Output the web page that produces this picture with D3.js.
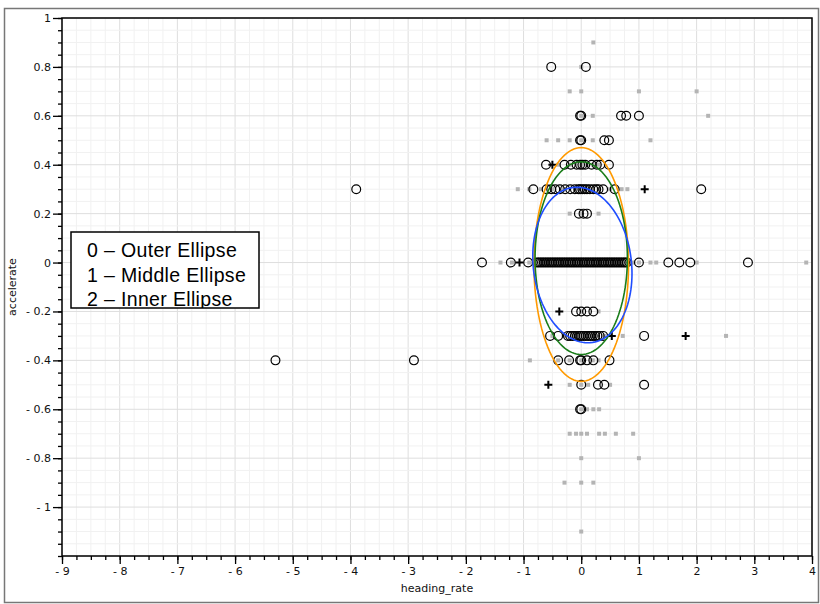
<!DOCTYPE html>
<html><head><meta charset="utf-8">
<script src="https://cdn.jsdelivr.net/npm/d3@7"></script>
<style>
html,body{margin:0;padding:0;background:#fff;}
svg{display:block;}
</style></head>
<body>
<script>
// ---------- DATA ----------
const xTickValues = [-9,-8,-7,-6,-5,-4,-3,-2,-1,0,1,2,3,4];
const yTickValues = [-1,-0.8,-0.6,-0.4,-0.2,0,0.2,0.4,0.6,0.8,1];
const xTitle = "heading_rate";
const yTitle = "accelerate";

// background (gray square) points [heading_rate, accelerate]
const grayPoints = [
  [0.21,0.9],
  [0.0,0.8],
  [-0.2,0.7],[0.0,0.7],[1.0,0.7],[2.0,0.7],
  [0.0,0.6],[0.2,0.6],[2.2,0.6],
  [-0.6,0.5],[-0.4,0.5],[-0.2,0.5],[0.0,0.5],[0.2,0.5],[1.2,0.5],
  [-0.4,0.4],[-0.2,0.4],[0.0,0.4],[0.1,0.4],[0.2,0.4],[0.3,0.4],
  [-1.1,0.3],[-0.9,0.3],[-0.7,0.3],[-0.5,0.3],[-0.3,0.3],[-0.1,0.3],[0.0,0.3],[0.1,0.3],[0.3,0.3],[0.5,0.3],[0.7,0.3],[0.8,0.3],
  [-0.2,0.2],[0.0,0.2],[0.3,0.2],
  [-1.4,0],[-1.2,0],[-0.9,0],[-0.6,0],[-0.3,0],[0.0,0],[0.3,0],[0.6,0],[0.9,0],[1.0,0],[1.2,0],[1.3,0],[2.0,0],[3.9,0],
  [0.0,-0.2],[0.3,-0.2],
  [-0.5,-0.3],[-0.3,-0.3],[0.0,-0.3],[0.2,-0.3],[0.4,-0.3],[0.72,-0.3],[2.51,-0.3],
  [-0.89,-0.4],[-0.4,-0.4],[-0.2,-0.4],[0.0,-0.4],[0.2,-0.4],[0.3,-0.4],
  [-0.2,-0.5],[0.0,-0.5],[0.12,-0.5],[0.5,-0.5],
  [0.0,-0.6],[0.1,-0.6],[0.21,-0.6],[0.31,-0.6],
  [-0.2,-0.7],[-0.09,-0.7],[0.0,-0.7],[0.1,-0.7],[0.31,-0.7],[0.41,-0.7],[0.6,-0.7],[0.9,-0.7],
  [0.0,-0.8],[1.0,-0.8],
  [-0.29,-0.9],[0.0,-0.9],[0.21,-0.9],
  [0.0,-1.1]
];

// open circle points
const circlePoints = [
  [-0.52,0.8],[0.08,0.8],
  [-0.02,0.6],[0.0,0.6],[0.69,0.6],[0.78,0.6],[1.0,0.6],
  [-0.02,0.5],[0.0,0.5],[0.4,0.5],[0.48,0.5],
  [-0.61,0.4],[-0.29,0.4],[-0.18,0.4],[-0.08,0.4],[-0.02,0.4],[0.02,0.4],[0.07,0.4],[0.18,0.4],[0.27,0.4],[0.33,0.4],[0.48,0.4],
  [-3.9,0.3],[-0.83,0.3],[-0.6,0.3],[-0.52,0.3],[-0.45,0.3],[-0.37,0.3],[-0.28,0.3],[-0.19,0.3],[-0.11,0.3],[-0.05,0.3],[-0.02,0.3],[0.02,0.3],[0.06,0.3],[0.1,0.3],[0.15,0.3],[0.21,0.3],[0.26,0.3],[0.3,0.3],[0.38,0.3],[0.58,0.3],[2.08,0.3],
  [-0.04,0.2],[0.04,0.2],[0.1,0.2],
  [-1.72,0],[-1.22,0],[-0.92,0],
  [-0.77,0],[-0.74,0],[-0.71,0],[-0.68,0],[-0.65,0],[-0.62,0],[-0.59,0],[-0.56,0],[-0.53,0],[-0.5,0],
  [-0.47,0],[-0.44,0],[-0.41,0],[-0.38,0],[-0.35,0],[-0.32,0],[-0.29,0],[-0.26,0],[-0.23,0],[-0.2,0],
  [-0.17,0],[-0.14,0],[-0.11,0],[-0.08,0],[-0.05,0],[-0.02,0],[0.01,0],[0.04,0],[0.07,0],[0.1,0],
  [0.13,0],[0.16,0],[0.19,0],[0.22,0],[0.25,0],[0.28,0],[0.31,0],[0.34,0],[0.37,0],[0.4,0],
  [0.43,0],[0.46,0],[0.49,0],[0.52,0],[0.55,0],[0.58,0],[0.61,0],[0.64,0],[0.67,0],[0.7,0],
  [0.73,0],[0.76,0],[0.79,0],
  [1.0,0],[1.51,0],[1.7,0],[1.89,0],[2.89,0],
  [-0.09,-0.2],[0.0,-0.2],[0.1,-0.2],[0.21,-0.2],
  [-0.54,-0.3],[-0.4,-0.3],[-0.23,-0.3],[-0.19,-0.3],[-0.15,-0.3],[-0.11,-0.3],[-0.07,-0.3],[-0.03,-0.3],[0.0,-0.3],[0.04,-0.3],[0.08,-0.3],[0.12,-0.3],[0.16,-0.3],[0.2,-0.3],[0.24,-0.3],[0.28,-0.3],[0.32,-0.3],[0.38,-0.3],[1.09,-0.3],
  [-5.3,-0.4],[-2.9,-0.4],[-0.4,-0.4],[-0.21,-0.4],[-0.02,-0.4],[0.0,-0.4],[0.1,-0.4],[0.21,-0.4],[0.49,-0.4],
  [0.0,-0.5],[0.29,-0.5],[0.4,-0.5],[1.09,-0.5],
  [-0.02,-0.6],[0.0,-0.6]
];

// plus-sign points
const plusPoints = [
  [-0.5,0.4],[1.1,0.3],[-1.07,0],[-0.38,-0.2],[0.53,-0.3],[1.81,-0.3],[-0.57,-0.5]
];

// ellipses: centre x, centre y, semi-axis x, semi-axis y, shear (data units)
const ellipseNames = ["0 \u2013 Outer Ellipse","1 \u2013 Middle Ellipse","2 \u2013 Inner Ellipse"];
const ellipseCx    = [0.0, 0.0, 0.02];
const ellipseCy    = [-0.008, 0.018, -0.01];
const ellipseAx    = [0.82, 0.80, 0.86];
const ellipseAy    = [0.478, 0.394, 0.316];
const ellipseShear = [0.0, 0.0, -0.035];
const ellipseColors = ["#ff9a00","#1a7d1a","#1f4dff"];

// ---------- CHART ----------
const W = 820, H = 604;
const svg = d3.select("body").append("svg").attr("width",W).attr("height",H);
const L = 62, R = 812, T = 18, B = 556;
const x = d3.scaleLinear().domain([-9,4]).range([L,R]);
const y = d3.scaleLinear().domain([-1.2,1]).range([B,T]);

// outer frame
svg.append("rect").attr("x",4.5).attr("y",8.5).attr("width",814).attr("height",594)
  .attr("fill","#fff").attr("stroke","#777").attr("stroke-width",1.5);

// grid
const xMinor = d3.range(-36,17).map(i=>i*0.25);
const yMinor = d3.range(-24,21).map(i=>+(i*0.05).toFixed(2));
const g = svg.append("g");
g.selectAll(".gxm").data(xMinor).join("line")
  .attr("x1",d=>x(d)).attr("x2",d=>x(d)).attr("y1",T).attr("y2",B)
  .attr("stroke",d=>Number.isInteger(d)?"#dedede":"#f1f1f1").attr("stroke-width",1);
g.selectAll(".gym").data(yMinor).join("line")
  .attr("y1",d=>y(d)).attr("y2",d=>y(d)).attr("x1",L).attr("x2",R)
  .attr("stroke",d=>Math.abs(Math.round(d*5)-d*5)<1e-6?"#dedede":"#f1f1f1").attr("stroke-width",1);

// axes
const fmt = d => d<0 ? "- " + d3.format("")(+Math.abs(d).toFixed(2)) : d3.format("")(+d.toFixed(2));
const axFont = "DejaVu Sans, sans-serif";
const xAxisMinor = svg.append("g").attr("transform",`translate(0,${B})`)
  .call(d3.axisBottom(x).tickValues(xMinor).tickSize(4).tickFormat(""));
const xAxis = svg.append("g").attr("transform",`translate(0,${B})`)
  .call(d3.axisBottom(x).tickValues(xTickValues).tickSize(8).tickPadding(3).tickFormat(fmt));
const yAxisMinor = svg.append("g").attr("transform",`translate(${L},0)`)
  .call(d3.axisLeft(y).tickValues(yMinor).tickSize(4).tickFormat(""));
const yAxis = svg.append("g").attr("transform",`translate(${L},0)`)
  .call(d3.axisLeft(y).tickValues(yTickValues).tickSize(9).tickPadding(2).tickFormat(fmt));
[xAxisMinor,xAxis,yAxisMinor,yAxis].forEach(a=>{
  a.select(".domain").remove();
  a.selectAll("line").attr("stroke","#000").attr("stroke-width",1.3);
  a.selectAll("text").attr("font-family",axFont).attr("font-size",11).attr("fill","#111");
});

// plot box
svg.append("rect").attr("x",L).attr("y",T).attr("width",R-L).attr("height",B-T)
  .attr("fill","none").attr("stroke","#000").attr("stroke-width",1.5);

// axis titles
svg.append("text").attr("x",(L+R)/2).attr("y",592).attr("text-anchor","middle")
  .attr("font-family",axFont).attr("font-size",11).attr("fill","#111").text(xTitle);
svg.append("text").attr("transform",`translate(16,${(T+B)/2}) rotate(-90)`).attr("text-anchor","middle")
  .attr("font-family",axFont).attr("font-size",11).attr("fill","#111").text(yTitle);

// points
const pts = svg.append("g");
pts.selectAll(".gray").data(grayPoints).join("rect")
  .attr("x",d=>x(d[0])-2).attr("y",d=>y(d[1])-2).attr("width",4).attr("height",4)
  .attr("fill","#b4b4b4");
pts.selectAll(".circ").data(circlePoints).join("circle")
  .attr("cx",d=>x(d[0])).attr("cy",d=>y(d[1])).attr("r",4.4)
  .attr("fill","none").attr("stroke","#000").attr("stroke-width",1.2);
const ps = 4;
pts.selectAll(".plus").data(plusPoints).join("path")
  .attr("d",d=>{const cx=x(d[0]),cy=y(d[1]);return `M${cx-ps},${cy}H${cx+ps}M${cx},${cy-ps}V${cy+ps}`;})
  .attr("stroke","#000").attr("stroke-width",2).attr("fill","none");

// ellipses
const angles = d3.range(0,361,3).map(a=>a*Math.PI/180);
const line = d3.line().x(d=>x(d[0])).y(d=>y(d[1])).curve(d3.curveLinearClosed);
ellipseNames.forEach((n,i)=>{
  const p = angles.map(t=>[ellipseCx[i]+ellipseAx[i]*Math.cos(t),
                           ellipseCy[i]+ellipseAy[i]*Math.sin(t)+ellipseShear[i]*Math.cos(t)]);
  svg.append("path").attr("d",line(p)).attr("fill","none")
    .attr("stroke",ellipseColors[i]).attr("stroke-width",1.6);
});

// legend
const lg = svg.append("g");
const lx = 71, ly = 232, lw = 188, lh = 76;
svg.append("clipPath").attr("id","lclip").append("rect").attr("x",lx).attr("y",ly).attr("width",lw).attr("height",lh);
lg.append("rect").attr("x",lx).attr("y",ly).attr("width",lw).attr("height",lh)
  .attr("fill","#fff").attr("stroke","#000").attr("stroke-width",1.5);
lg.append("g").attr("clip-path","url(#lclip)").selectAll("text").data(ellipseNames).join("text")
  .attr("x",lx+16).attr("y",(d,i)=>ly+25+i*24.5)
  .attr("font-family","Liberation Sans, Arial, sans-serif").attr("font-size",19.5)
  .attr("letter-spacing",0.35).attr("fill","#000").text(d=>d);
</script>
</body></html>
